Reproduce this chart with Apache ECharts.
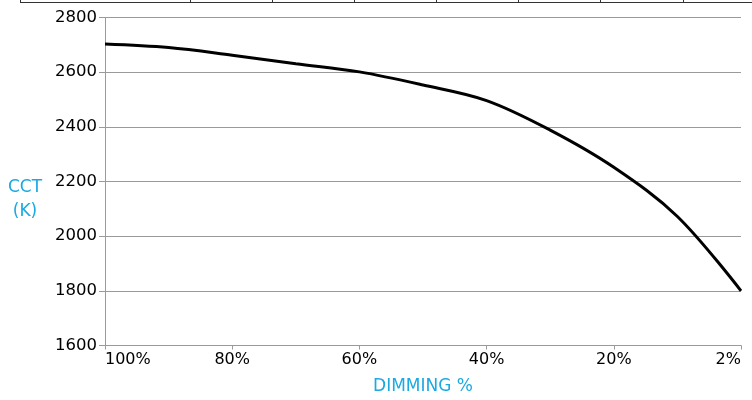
<!DOCTYPE html>
<html>
<head>
<meta charset="utf-8">
<script src="https://cdn.jsdelivr.net/npm/echarts@6/dist/echarts.min.js"></script>
<style>html,body{margin:0;padding:0;background:#fff;}#c{width:752px;height:400px;}</style>
</head>
<body>
<div id="c"></div>
<script>
var categories = ['100%','90%','80%','70%','60%','50%','40%','30%','20%','10%','2%'];
var cctValues = [2703, 2690, 2662, 2631, 2601, 2553, 2496, 2388, 2252, 2072, 1800];
var yTicks = { min: 1600, max: 2800, interval: 200 };
var xAxisTitle = 'DIMMING %';
var yAxisTitle = 'CCT\n(K)';

var chart = echarts.init(document.getElementById('c'));
var font = 'DejaVu Sans';
var cyan = '#1aa9e1';
var gray = '#9a9a9a';
var topTicks = [20.5, 190.5, 272.5, 354.5, 436.5, 518.5, 600.5, 683.5];
var graphics = [{ type: 'line', shape: { x1: 20, y1: 2.5, x2: 752, y2: 2.5 }, style: { stroke: '#333', lineWidth: 1 } }];
topTicks.forEach(function (x) {
  graphics.push({ type: 'line', shape: { x1: x, y1: 0, x2: x, y2: 3 }, style: { stroke: '#333', lineWidth: 1 } });
});
graphics.push({
  type: 'text', x: 25, y: 200,
  style: { text: yAxisTitle, fill: cyan, fontSize: 17, fontFamily: font, lineHeight: 24, align: 'center', verticalAlign: 'middle' }
});
chart.setOption({
  animation: false,
  backgroundColor: '#fff',
  grid: { left: 105, right: 11, top: 17.5, bottom: 54.5, containLabel: false, outerBoundsMode: 'none' },
  graphic: graphics,
  xAxis: {
    type: 'category',
    data: categories,
    boundaryGap: false,
    name: xAxisTitle,
    nameLocation: 'middle',
    nameGap: 33,
    nameTextStyle: { color: cyan, fontSize: 17, fontFamily: font },
    axisLine: { show: true, lineStyle: { color: gray, width: 1 } },
    axisTick: { show: true, interval: 1, length: 4, lineStyle: { color: gray } },
    axisLabel: {
      interval: 1, color: '#000', fontSize: 16, fontFamily: font, margin: 6,
      alignMinLabel: 'left', alignMaxLabel: 'right'
    },
    splitLine: { show: false }
  },
  yAxis: {
    type: 'value',
    min: yTicks.min, max: yTicks.max, interval: yTicks.interval,
    axisLine: { show: true, lineStyle: { color: gray, width: 1 } },
    axisTick: { show: true, length: 6, lineStyle: { color: gray } },
    axisLabel: { color: '#000', fontSize: 16.5, fontFamily: font, margin: 8, formatter: function (v) { return String(v); } },
    splitLine: { show: true, lineStyle: { color: gray, width: 1 } }
  },
  series: [{
    type: 'line',
    data: cctValues,
    smooth: 0.35,
    symbol: 'none',
    lineStyle: { color: '#000', width: 3 }
  }]
});
</script>
</body>
</html>
